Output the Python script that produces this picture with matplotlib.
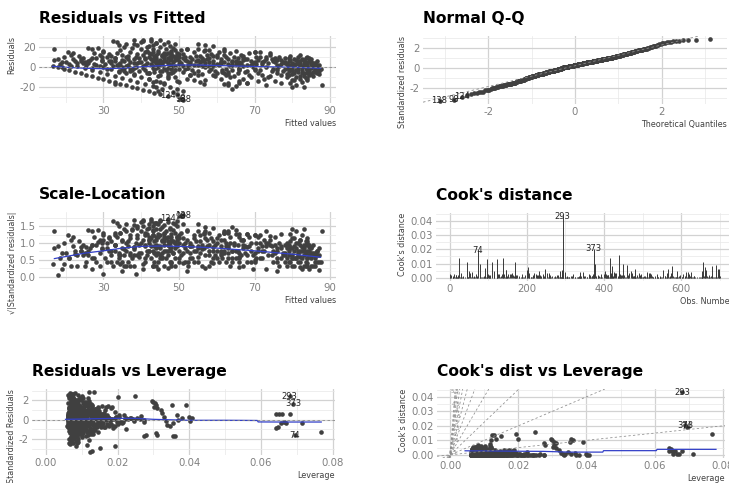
import numpy as np
import matplotlib.pyplot as plt
from matplotlib.ticker import MultipleLocator, FormatStrFormatter
from statistics import NormalDist

plt.rcParams['font.family'] = ['DejaVu Sans']
plt.rcParams['axes.unicode_minus'] = False

sigma = 10.0   # residual standard error of the fit
n_coef = 10    # number of coefficients in the model
n_obs = 700    # rows in the model frame

# observations whose response sits on a few repeated values (diagonal bands)
band_fit = [16.5, 18, 19.5, 21, 22.5, 24, 25.5, 27, 28.5, 30,
            31.5, 33, 34.5, 36, 37.5, 39, 40.5, 42, 43.5, 45,
            17, 19, 21, 23, 25, 27, 29, 31, 33, 35, 37, 39, 41, 43,
            22, 24, 26, 28, 30, 32, 34, 36, 38, 40, 42, 44, 46,
            27, 29.5, 32, 34.5, 37, 39.5, 42, 44.5, 47, 49.5,
            33, 35.5, 38, 40.5, 43, 45.5, 48]
band_res = [1.5, 0.05, -1.5, -3, -4.5, -6, -7.5, -9, -10.5, -12,
            -13.5, -15, -16.5, -18, -19.5, -21, -22.5, -24, -25.5, -27,
            7, 5, 3, 1, -1, -3, -5, -7, -9, -11, -13, -15, -17, -19,
            8, 6, 4, 2, -0.08, -2, -4, -6, -8, -10, -12, -14, -16,
            9, 6.5, 4, 1.5, -1, -3.5, -6, -8.5, -11, -13.5,
            9, 6.5, 4, 1.5, -1, -3.5, -6]
band_hat = [9.2, 7.4, 12.8, 6.3, 10.5, 8.1, 14.2, 7.0, 11.3, 9.6,
            6.8, 13.1, 8.7, 10.2, 7.7, 12.0, 9.0, 6.5, 11.6, 8.3,
            7.9, 10.8, 6.1, 13.5, 8.8, 11.9, 7.2, 15.4, 9.4, 6.6, 12.4, 8.0, 10.0, 7.5,
            11.1, 6.9, 9.8, 14.8, 7.6, 12.6, 8.4, 10.6, 6.4, 13.8, 9.1, 7.3, 11.8,
            8.6, 12.2, 7.1, 16.3, 9.7, 6.7, 11.4, 8.2, 13.3, 10.4,
            7.8, 14.0, 9.3, 6.2, 12.9, 8.9, 17.5]
band_obs = [3, 39, 81, 117, 152, 189, 228, 262, 298, 334,
            368, 404, 442, 481, 517, 552, 589, 624, 661, 694,
            10, 52, 95, 135, 178, 214, 251, 289, 329, 366, 410, 453, 496, 538,
            21, 62, 103, 143, 184, 221, 259, 305, 348, 392, 435, 478, 520,
            28, 70, 113, 157, 199, 240, 284, 325, 371, 418,
            36, 87, 131, 174, 218, 263, 309]

# scattered observations, grouped by fitted value
cloud_fit = [17, 18, 19.5, 20.5, 21.5, 22, 23.5, 24.5, 26, 27,
             27.5, 28.5, 29, 30, 31, 31.5, 25, 26.5, 29.5, 32,
             32.5, 33.5, 34, 34.5, 35, 35.5, 36, 36.5, 37, 37.5,
             38, 38.5, 39, 39.5, 33, 34, 35, 36, 37, 38, 39, 40, 40, 33.5, 36.5,
             40.5, 41, 41.5, 42, 42.5, 42.5, 43, 43, 43.5, 44,
             44, 44.5, 44.5, 45, 45, 45.5, 45.5, 46, 46, 46.5,
             46.5, 47, 47, 47.5, 47.5, 48, 48, 48.5, 48.5, 49,
             49, 49.5, 50, 50, 50.5, 41, 43.5, 45, 46, 47, 48, 49, 44, 42, 41.5,
             42, 43, 44, 44.5, 45.5, 46, 47.5, 48.5, 49.5, 50, 51, 52, 49,
             51, 51.5, 52, 52.5, 53, 53.5, 54, 54.5, 55, 55,
             55.5, 56, 56.5, 57, 57, 57.5, 58, 58.5, 59, 59,
             59.5, 60, 55.5, 56.5, 53, 51.5, 58, 54,
             60.5, 61, 61.5, 62, 62, 62.5, 63, 63, 63.5, 64,
             64, 64.5, 65, 65, 65.5, 66, 66.5, 67, 67, 67.5,
             68, 68.5, 69, 69.5, 70, 61, 62.5, 66, 68, 70,
             70.5, 71, 71.5, 72, 72.5, 73, 73, 74, 74.5, 75,
             75.5, 76, 76.5, 77, 77, 77.5, 78, 78,
             78.5, 79, 79, 79.5, 80, 80, 80.5, 80.5, 81, 81,
             81.5, 81.5, 82, 82, 82.5, 82.5, 83, 83, 83.5, 83.5,
             84, 84, 84.5, 84.5, 85, 85, 85.5, 85.5, 86, 86,
             86.5, 86.5, 87, 87, 87.5, 88, 79.5, 80, 83, 84, 78.5, 82]
cloud_res = [18.5, 8, 10, 15, 12, 14, 11, 9, 19, 18,
             14, 19, 12, 15, 10, 13, 5, 7, 7, 11,
             27, 25.5, 22, 17, 12, 20, 24, 8, 15, 19,
             28, 10, 22, 5, 6, 3, -2, 1, -4, -1, 13, 26, 18, 14, 11,
             27, 9, 20, 14, 27, 3, 18, 22, 8, 12,
             25, 16, 0.6, 28, 20, 11, 5, 23, 14, 18,
             -3, 9, 26, 21, 2, 16, 12, 19, -5, 7,
             24, 14, 10, 3, 17, 2, -5, -8, 6, -0.7, -1, 17, 7, 21, 16,
             -12, -15, -20, -24, -22, -17, -20, -25, -22, -15, -24, -12, -10,
             13, 7, 18, 2, 10, -3, 15, 6, 18, -8,
             11, 1, 16, 22, -13, 8, -4, 13, 21, 3,
             -9, 10, -15, -17, -8, -2, 17, -13,
             15, 5, -5, 12, 18, -2, 8, -18, 14, -22,
             2, 10, -19, 16, -6, 5, 12, -12, 1, 8,
             -4, 14, -10, 4, 15, -12, -8, -14, -16, -2,
             10, -6, 15, 3, -12, 8, -18, 12, -4, 6,
             -14, 2, 10, -8, -16, 5, -2, 9,
             -10, 6, -4, 11, 1, -7, 8, -13, 3, -18,
             10, -2, 6, -9, 0.5, -15, 4, -6, 9, -11,
             1, -3, 6, -8, 3, -1, -5, 4, 1, -3,
             2, -6, -0.4, -4, -2, -18, -16, -20, -20, 10, 3, 12]
cloud_hat = [8.4, 10.9, 7.1, 12.3, 6.6, 9.5, 13.7, 8.0, 7.3, 11.2,
             15.8, 6.9, 9.9, 12.8, 7.7, 18.6, 10.4, 14.1, 8.8, 6.4,
             7.5, 9.1, 11.7, 6.2, 14.6, 8.3, 10.1, 19.2, 7.0, 12.1,
             6.8, 16.4, 9.6, 13.2, 8.9, 20.5, 7.8, 11.0, 15.1, 9.3, 6.5, 7.2, 10.7, 17.3, 12.5,
             6.7, 13.9, 9.0, 11.5, 7.4, 16.9, 8.6, 10.3, 14.4, 7.9,
             6.3, 12.2, 18.1, 8.1, 9.7, 13.0, 21.8, 7.6, 11.8, 8.5,
             15.5, 10.0, 6.9, 9.4, 17.7, 12.7, 8.2, 7.3, 14.9, 11.1,
             6.6, 10.8, 13.6, 19.5, 8.7, 23.4, 12.0, 9.2, 15.3, 7.1, 24.6, 10.5, 16.2, 8.0, 11.4,
             7.7, 9.8, 6.4, 8.6, 7.0, 11.3, 9.1, 6.8, 8.3, 12.6, 7.5, 14.7, 10.2,
             9.5, 13.1, 7.2, 22.5, 10.6, 15.9, 8.0, 12.4, 6.9, 18.8,
             9.9, 26.2, 7.8, 6.5, 11.6, 14.3, 20.1, 8.4, 7.1, 16.6,
             10.9, 12.9, 9.0, 7.6, 13.4, 19.9, 8.9, 11.8,
             8.2, 14.5, 17.4, 10.1, 7.4, 21.2, 12.3, 8.8, 9.6, 7.0,
             25.3, 11.7, 7.9, 8.5, 15.7, 13.8, 10.4, 9.3, 22.8, 12.1,
             18.3, 8.1, 10.7, 16.0, 7.7, 9.4, 13.5, 8.6, 7.3, 27.5,
             11.9, 14.0, 7.5, 19.6, 9.7, 12.8, 7.1, 10.3, 17.0, 13.3,
             8.7, 23.9, 9.8, 12.4, 8.2, 15.1, 20.7, 11.0,
             9.2, 12.5, 14.2, 8.3, 18.4, 10.6, 9.5, 8.8, 16.3, 7.4,
             10.0, 21.6, 12.0, 9.6, 24.2, 7.8, 13.7, 11.3, 8.9, 9.1,
             19.0, 15.4, 10.5, 8.5, 13.9, 17.8, 11.1, 12.7, 22.1, 14.8,
             9.9, 10.8, 16.8, 13.0, 11.6, 6.9, 7.6, 6.7, 7.2, 10.2, 15.6, 9.0]
cloud_obs = [1, 47, 94, 140, 186, 233, 280, 326, 372, 419,
             465, 512, 559, 605, 652, 699, 15, 60, 106, 153,
             200, 246, 292, 339, 385, 432, 479, 525, 571, 618,
             664, 5, 50, 97, 144, 191, 237, 283, 330, 376, 423, 469, 516, 562, 609,
             655, 8, 54, 101, 147, 194, 241, 287, 333, 380,
             426, 473, 519, 566, 613, 659, 13, 59, 105, 151,
             197, 244, 290, 337, 383, 429, 475, 522, 569, 615,
             662, 17, 64, 110, 156, 202, 248, 295, 341, 387, 433, 480, 527, 573, 620,
             666, 23, 68, 114, 161, 207, 253, 300, 346, 393, 440, 486, 532,
             579, 626, 672, 26, 72, 119, 165, 211, 257, 304,
             350, 397, 444, 490, 536, 583, 630, 676, 31, 77,
             123, 169, 216, 261, 307, 354, 400, 447,
             492, 540, 587, 633, 680, 35, 82, 128, 173, 220,
             268, 314, 361, 407, 454, 500, 546, 593, 639, 685,
             41, 88, 134, 180, 226, 272, 318, 364, 411, 457,
             503, 550, 596, 643, 689, 46, 92, 139, 185, 232,
             278, 324, 370, 416, 462, 509, 555, 602,
             648, 693, 49, 96, 142, 188, 235, 281, 328, 374,
             420, 467, 513, 560, 606, 653, 698, 55, 102, 148,
             195, 242, 288, 335, 381, 428, 474, 521, 567, 614,
             660, 2, 58, 104, 150, 196, 243, 291, 338, 384, 431, 477]

# well-fitted observations in the dense part of each fitted range
core_fit = [30.5, 31, 32, 32.5, 33, 34, 34.5, 35, 35.5, 36,
            36.5, 37, 37.5, 38, 38.5, 39, 39.5, 31.5, 33.5, 35.5,
            40, 40.5, 41, 41, 41.5, 42, 42, 42.5, 43, 43,
            43.5, 43.5, 44, 44, 44.5, 44.5, 45, 45, 45.5, 45.5,
            46, 46, 46.5, 46.5, 47, 47, 47.5, 47.5, 48, 48,
            48.5, 48.5, 49, 49, 49.5, 49.5, 50, 50, 40.5, 41.5,
            42.5, 43, 44, 45, 46, 47, 48, 49, 50, 44.5,
            50.5, 51, 51.5, 52, 52.5, 53, 53.5, 54, 54.5, 55,
            55.5, 56, 56.5, 57, 57.5, 58, 58.5, 59, 59.5, 60,
            51, 52, 53, 54, 55, 56, 57, 58, 59, 60,
            60.5, 61, 61.5, 62, 62.5, 63, 63.5, 64, 64.5, 65,
            65.5, 66, 66.5, 67, 67.5, 68, 68.5, 69, 69.5, 70,
            61, 62, 63, 64, 65, 66, 67, 68, 69, 63.5,
            70.5, 71, 71.5, 72, 72.5, 73, 73.5, 74, 74.5, 75,
            75.5, 76, 76.5, 77, 77.5, 71.5, 73.5, 75.5, 76, 77,
            78, 78.5, 79, 79, 79.5, 79.5, 80, 80, 80.5, 80.5,
            81, 81, 81.5, 81.5, 82, 82, 82.5, 82.5, 83, 83,
            83.5, 83.5, 84, 84, 84.5, 84.5, 85, 85, 85.5, 85.5,
            86, 86, 86.5, 86.5, 87, 87, 79, 80, 81, 82,
            83, 84, 85, 86, 80.5, 81.5, 82.5, 83.5, 84.5, 78.5,
            18.5, 20, 21.5, 23, 24, 25.5, 26, 27.5, 28, 29,
            19, 22.5, 24.5, 27, 29.5]
core_res = [3, -2, 6, 1, 9, -5, 4, 7, -1, 10,
            2, 5, -3, 8, 0.1, 4, 9, 6, 2, -4,
            5, 12, -3, 8, 4, 10, -6, 13, 1, 6,
            11, -2, 4, 9, 14, 2, 7, -4, 12, 3,
            9, -1, 6, 13, 4, -6, 10, 7, 2, 14,
            5, 11, 1, -3, 8, 12, 6, -2, -0.6, -6,
            8, 15, -1, 3, 11, 14, 8, 10, 13, 5,
            4, -5, 10, 6, -1, 3, 8, -6, 11, 2,
            5, -7, 7, 0.7, 12, 9, -2, 6, -4, 3,
            9, -0.3, 5, 2, 7, 9, 4, 1, 11, -6,
            2, 8, -3, 5, 10, -7, 1, 6, -9, 3,
            9, -2, 4, 7, -5, 2, -8, 6, 0.5, 5,
            4, -6, 3, -3, 6, -0.8, 9, 8, 2, -10,
            3, 7, -3, -8, 6, 0.6, 4, -9, 8, -2,
            5, -6, 1, 7, -4, 10, -10, 9, 7, 3,
            5, -1, 2, -8, -2, 7, 4, -3, -6, 1,
            7, -10, 4, -5, 2, -12, 8, -3, 1, -9,
            5, -1, -6, 3, -0.5, 9, -7, 5, 1, -9,
            4, -2, -4, 6, 2, -7, 9, -13, -3, 0.8,
            7, -11, 8, -5, 3, 6, -6, 2, -4, -7,
            3, 5, 1, 4, 8, 2, 6, 3, 9, 1,
            0.5, 6, 4, -0.5, 10]
core_hat = [7.2, 9.8, 11.4, 6.5, 8.7, 13.2, 7.9, 10.3, 6.1, 12.6,
            8.2, 9.1, 15.7, 7.4, 10.9, 6.8, 11.8, 8.5, 9.4, 14.1,
            6.3, 7.7, 10.1, 12.2, 8.0, 9.6, 6.9, 16.8, 11.0, 7.5,
            13.7, 8.8, 6.6, 9.9, 12.9, 7.1, 10.6, 8.3, 18.2, 6.4,
            9.3, 11.5, 7.8, 14.6, 8.6, 6.0, 10.4, 12.4, 7.3, 9.0,
            15.1, 8.1, 6.7, 11.2, 9.7, 7.6, 13.4, 10.0, 6.2, 8.9,
            12.0, 7.0, 9.5, 17.4, 8.4, 10.7, 6.5, 11.9, 7.9, 9.2,
            14.4, 6.9, 8.6, 10.2, 12.8, 7.4, 9.8, 19.3, 8.0, 6.3,
            11.1, 9.4, 7.2, 13.0, 8.7, 10.5, 6.6, 15.9, 9.1, 7.7,
            12.3, 8.2, 6.1, 10.8, 9.6, 14.8, 7.5, 11.6, 8.5, 6.8,
            9.9, 13.5, 7.1, 10.0, 8.3, 16.1, 6.4, 12.5, 9.3, 7.8,
            11.3, 8.9, 6.7, 14.0, 10.3, 7.0, 9.0, 12.7, 8.1, 20.4,
            6.2, 10.9, 7.6, 13.3, 9.7, 8.4, 11.7, 6.9, 15.3, 9.5,
            7.3, 12.1, 8.8, 10.6, 6.5, 14.3, 9.2, 7.9, 11.0, 8.0,
            17.0, 6.6, 10.1, 12.9, 7.4, 9.6, 8.6, 13.8, 6.3, 11.4,
            9.1, 7.7, 15.5, 10.4, 8.2, 12.2, 6.8, 9.8, 18.7, 7.2,
            11.8, 8.5, 10.7, 6.1, 13.6, 9.4, 7.5, 12.6, 8.3, 10.2,
            6.7, 14.7, 9.0, 7.8, 11.5, 8.7, 16.4, 10.0, 6.4, 12.4,
            9.3, 7.1, 13.1, 8.0, 10.8, 6.9, 11.2, 9.7, 21.3, 7.6,
            8.9, 12.0, 6.5, 10.5, 14.5, 7.3, 9.5, 8.1, 11.9, 6.2,
            13.9, 9.2, 7.0, 10.3, 8.4, 12.8, 15.0, 6.6, 9.9, 7.4,
            11.1, 8.6, 10.6, 7.7, 13.4]

# influential and high-leverage observations
infl_obs = [293, 373, 74, 124, 98, 138,
            439, 415, 44, 170, 78, 377, 450, 460, 575, 690,
            12, 187, 224, 319, 402, 511, 547, 603, 641, 668, 25,
            33, 57, 91, 109, 146, 203, 231, 258, 266, 301, 327, 355,
            388, 421, 476, 494, 529, 558, 586, 612, 634, 657, 679, 697, 18]
infl_fit = [55, 62, 68, 47, 50.5, 51,
            44, 49.5, 40.5, 38, 42.5, 57, 63, 74, 66, 30,
            58, 61, 64, 72, 53, 59, 66, 70, 76, 80, 84,
            78, 35, 45, 52, 60, 41, 67, 73, 56, 82, 48, 63,
            38, 70, 55, 44, 76, 59, 66, 84, 51, 62, 33, 71, 47]
infl_res = [23.5, 16, -15.5, -29, -32, -33,
            24.5, -26.5, 28, 23, 28.5, 17.7, -16.1, 14.6, -15.6, 16.6,
            5.8, 5.8, 5.8, 5.8, -8.2, -7.3, -2.9, -2.4, -2.9, -2.9, -12.5,
            4.0, 0.3, -15.2, 18.7, 12.8, 15.2, 11.8, 10.1, 6.7, 3.3, -1.7, -5.0,
            -6.7, 15.1, -3.3, 5.0, -0.3, 1.7, 3.3, -1.7, 1.7, -16.8, -16.8, -13.5, -8.9]
infl_hat = [68, 69, 69.5, 15, 12.8, 12.3,
            25, 19.3, 13.5, 20, 12, 30, 36, 39, 31, 30.5,
            64.2, 65, 66, 68, 64.2, 64.8, 65.5, 66.5, 67, 71.3, 76.8,
            26.5, 27.4, 27.9, 29.7, 30.2, 30.6, 31, 32, 32.4, 33, 33.4, 33.8,
            34.7, 35.2, 35.6, 36.6, 37, 37.9, 39.8, 40.2, 40.7, 35.6, 27.4, 30.6, 22.5]

# loess curves of the diagnostic panels
rvf_smooth_x = [16.5, 20, 25, 30, 35, 40, 45, 50, 55, 60, 65, 70, 75, 80, 85, 87.5]
rvf_smooth_y = [1.0, 0.0, -1.0, -1.5, -0.9, 0.5, 1.6, 2.3, 2.3, 1.8, 1.3, 0.8, 0.4, 0.0, -0.6, -1.0]
sl_smooth_x = [17, 20, 25, 30, 35, 40, 45, 50, 55, 60, 65, 70, 75, 80, 85, 87.5]
sl_smooth_y = [0.54, 0.60, 0.70, 0.77, 0.85, 0.90, 0.91, 0.90, 0.88, 0.85, 0.81, 0.77, 0.72, 0.67, 0.61, 0.58]
rvl_smooth_x = [0.0055, 0.01, 0.015, 0.02, 0.025, 0.03, 0.035, 0.04, 0.045, 0.05,
                0.055, 0.059, 0.0592, 0.065, 0.07, 0.0768]
rvl_smooth_y = [0.05, 0.08, 0.12, 0.15, 0.15, 0.05, 0.0, -0.05, -0.05, -0.05,
                -0.06, -0.07, -0.22, -0.23, -0.23, -0.23]
cvl_smooth_x = [0.0044, 0.01, 0.02, 0.0273, 0.0351, 0.040, 0.0448, 0.045, 0.0605, 0.0607, 0.07, 0.078]
cvl_smooth_y = [0.0028, 0.0027, 0.0025, 0.0024, 0.0019, 0.0019, 0.0019, 0.0029, 0.0029, 0.0038, 0.0038, 0.0038]

# standardized residual levels for the Cook's distance contours
contour_levels = [0.5, 1, 1.5, 2, 2.5, 3, 3.5, 4, 4.5, 5, 5.5]

# core rows take the observation numbers not used above
used = set(band_obs + cloud_obs + infl_obs)
free = np.array([k for k in range(1, n_obs + 1) if k not in used])
core_obs = free[np.round(np.linspace(0, len(free) - 1, len(core_fit))).astype(int)]

# ---- diagnostics ----
fitted = np.array(band_fit + cloud_fit + core_fit + infl_fit, dtype=float)
resid = np.array(band_res + cloud_res + core_res + infl_res, dtype=float)
hat = np.array(band_hat + cloud_hat + core_hat + infl_hat, dtype=float) / 1000
obs = np.concatenate([band_obs, cloud_obs, core_obs, infl_obs]).astype(int)

std_res = resid / (sigma * np.sqrt(1 - hat))
sqrt_abs = np.sqrt(np.abs(std_res))
cooks = std_res ** 2 / n_coef * hat / (1 - hat)

top_res = np.argsort(-np.abs(std_res))[:3]
top_cook = np.argsort(-cooks)[:3]

pt_col = '#404040'
smooth_col = '#3340c8'
ref_col = '#8c8c8c'
pt_size = 11

fig = plt.figure(figsize=(7.29, 4.83), dpi=100)


def make_axes(left, top, right, bottom):
    return fig.add_axes([left / 729, 1 - bottom / 483, (right - left) / 729, (bottom - top) / 483])


def decorate(ax, title, xlab, ylab):
    for sp in ax.spines.values():
        sp.set_visible(False)
    ax.set_axisbelow(True)
    ax.grid(True, which='major', color='#d2d2d2', lw=0.9)
    ax.grid(True, which='minor', color='#e8e8e8', lw=0.5)
    ax.tick_params(which='both', length=0, labelsize=7.3, labelcolor='#808080', pad=2.5)
    ax.set_title(title, loc='left', fontsize=11.2, fontweight='bold', pad=9.5)
    ax.set_xlabel(xlab, loc='right', fontsize=5.8, color='#404040', labelpad=2)
    ax.set_ylabel(ylab, loc='top', fontsize=5.8, color='#404040', labelpad=2)


def label_points(ax, xs, ys, idx):
    for i in idx:
        ax.text(xs[i], ys[i], str(obs[i]), fontsize=6, color='#222222',
                ha='center', va='center')


# Residuals vs Fitted
ax1 = make_axes(39, 36, 336, 103)
ax1.scatter(fitted, resid, s=pt_size, color=pt_col, lw=0)
ax1.plot(rvf_smooth_x, rvf_smooth_y, color=smooth_col, lw=0.9)
ax1.axhline(0, color=ref_col, lw=0.6, ls=(0, (3, 3)))
label_points(ax1, fitted, resid, top_res)
ax1.xaxis.set_major_locator(MultipleLocator(20, offset=10))
ax1.xaxis.set_minor_locator(MultipleLocator(10))
ax1.yaxis.set_major_locator(MultipleLocator(20))
ax1.yaxis.set_minor_locator(MultipleLocator(10))
decorate(ax1, 'Residuals vs Fitted', 'Fitted values', 'Residuals')

# Normal Q-Q
n = len(std_res)
order = np.argsort(std_res)
theo = np.array([NormalDist().inv_cdf((k + 0.5) / n) for k in range(n)])
samp = std_res[order]
rank = np.empty(n, dtype=int)
rank[order] = np.arange(n)
q1s, q3s = np.percentile(std_res, [25, 75])
q1t, q3t = NormalDist().inv_cdf(0.25), NormalDist().inv_cdf(0.75)
ax2 = make_axes(423, 36, 727, 104)
ax2.scatter(theo, samp, s=pt_size, color=pt_col, lw=0)
ax2.axline((q1t, q1s), slope=(q3s - q1s) / (q3t - q1t), color=ref_col, lw=0.6, ls=(0, (3, 3)))
for i in top_res:
    ax2.text(theo[rank[i]], std_res[i], str(obs[i]), fontsize=6, color='#222222',
             ha='center', va='center')
ax2.set_xlim(-3.5, 3.5)
ax2.xaxis.set_major_locator(MultipleLocator(2))
ax2.xaxis.set_minor_locator(MultipleLocator(1))
ax2.yaxis.set_major_locator(MultipleLocator(2))
ax2.yaxis.set_minor_locator(MultipleLocator(1))
decorate(ax2, 'Normal Q-Q', 'Theoretical Quantiles', 'Standardized residuals')

# Scale-Location
ax3 = make_axes(39, 212, 336, 280)
ax3.scatter(fitted, sqrt_abs, s=pt_size, color=pt_col, lw=0)
ax3.plot(sl_smooth_x, sl_smooth_y, color=smooth_col, lw=0.9)
label_points(ax3, fitted, sqrt_abs, top_res)
sl_lo, sl_hi = min(sqrt_abs.min(), 0.0), sqrt_abs.max()
ax3.set_ylim(sl_lo - 0.05 * (sl_hi - sl_lo), sl_hi + 0.05 * (sl_hi - sl_lo))
ax3.xaxis.set_major_locator(MultipleLocator(20, offset=10))
ax3.xaxis.set_minor_locator(MultipleLocator(10))
ax3.yaxis.set_major_locator(MultipleLocator(0.5))
ax3.yaxis.set_minor_locator(MultipleLocator(0.25))
ax3.yaxis.set_major_formatter(FormatStrFormatter('%.1f'))
decorate(ax3, 'Scale-Location', 'Fitted values', '√|Standardized residuals|')

# Cook's distance
ax4 = make_axes(436, 213, 733, 281)
ax4.vlines(obs, 0, cooks, color='#383838', lw=0.7)
for i in top_cook:
    ax4.text(obs[i], cooks[i], str(obs[i]), fontsize=6, color='#222222',
             ha='center', va='center')
ax4.set_xlim(-35, 734)
ax4.set_ylim(-0.05 * cooks.max(), 1.05 * cooks.max())
ax4.xaxis.set_major_locator(MultipleLocator(200))
ax4.xaxis.set_minor_locator(MultipleLocator(100))
ax4.yaxis.set_major_locator(MultipleLocator(0.01))
ax4.yaxis.set_minor_locator(MultipleLocator(0.005))
ax4.yaxis.set_major_formatter(FormatStrFormatter('%.2f'))
decorate(ax4, "Cook's distance", 'Obs. Number', "Cook's distance")

hat_pad = 0.05 * hat.max()

# Residuals vs Leverage
ax5 = make_axes(32, 389, 335, 455)
ax5.scatter(hat, std_res, s=pt_size, color=pt_col, lw=0)
ax5.plot(rvl_smooth_x, rvl_smooth_y, color=smooth_col, lw=0.9)
ax5.axhline(0, color=ref_col, lw=0.6, ls=(0, (3, 3)))
label_points(ax5, hat, std_res, top_cook)
ax5.set_xlim(-hat_pad, hat.max() + hat_pad)
ax5.xaxis.set_major_locator(MultipleLocator(0.02))
ax5.xaxis.set_minor_locator(MultipleLocator(0.01))
ax5.xaxis.set_major_formatter(FormatStrFormatter('%.2f'))
ax5.yaxis.set_major_locator(MultipleLocator(2))
ax5.yaxis.set_minor_locator(MultipleLocator(1))
decorate(ax5, 'Residuals vs Leverage', 'Leverage', 'Standardized Residuals')

# Cook's dist vs Leverage
ax6 = make_axes(437, 389, 725, 458)
ax6.scatter(hat, cooks, s=pt_size, color=pt_col, lw=0)
ax6.plot(cvl_smooth_x, cvl_smooth_y, color=smooth_col, lw=0.9)
label_points(ax6, hat, cooks, top_cook)
ax6.set_xlim(-hat_pad, hat.max() + hat_pad)
ax6.set_ylim(-0.05 * cooks.max(), 1.05 * cooks.max())
ylo, yhi = ax6.get_ylim()
for k, b in enumerate(contour_levels):
    ax6.axline((0, 0), slope=b ** 2, color=ref_col, lw=0.55, ls=(0, (3, 3)))
    ly = 0.0015 + k * (yhi - 0.0035) / (len(contour_levels) - 1)
    ax6.text(min(ly / b ** 2, 0.0008 + 0.00022 * k), ly, f'{b:g}', fontsize=4,
             color='#8a8a8a', ha='center', va='center')
ax6.xaxis.set_major_locator(MultipleLocator(0.02))
ax6.xaxis.set_minor_locator(MultipleLocator(0.01))
ax6.xaxis.set_major_formatter(FormatStrFormatter('%.2f'))
ax6.yaxis.set_major_locator(MultipleLocator(0.01))
ax6.yaxis.set_minor_locator(MultipleLocator(0.005))
ax6.yaxis.set_major_formatter(FormatStrFormatter('%.2f'))
decorate(ax6, "Cook's dist vs Leverage", 'Leverage', "Cook's distance")

fig.savefig('out.png', dpi=100)
